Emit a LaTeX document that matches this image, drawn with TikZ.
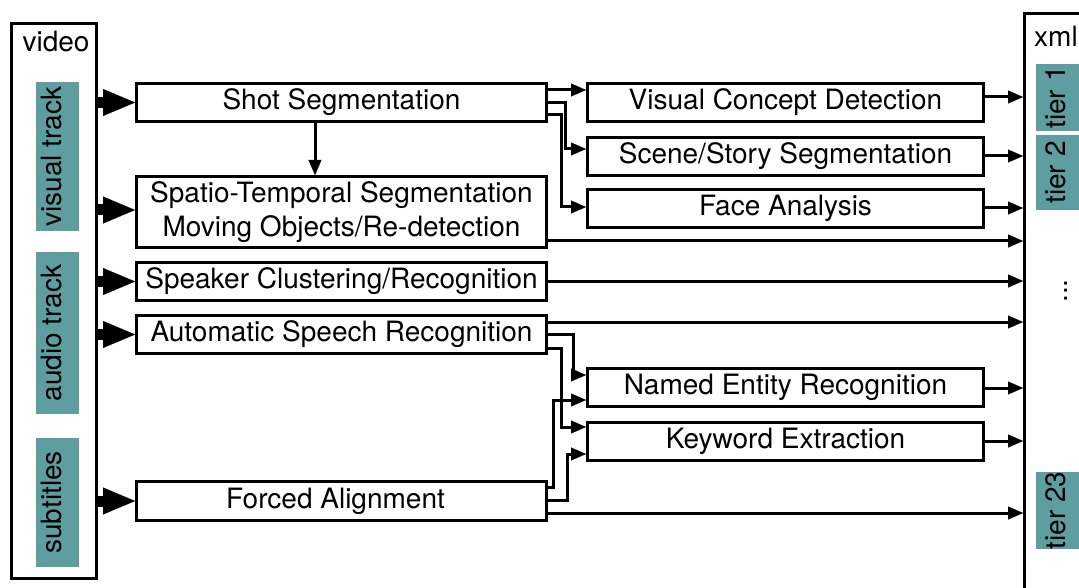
\documentclass[tikz,border=0pt]{standalone}
\usepackage{fontspec}
\setmainfont{TeX Gyre Heros}
\usetikzlibrary{arrows.meta}
\definecolor{cadet}{RGB}{95,158,160}
\begin{document}
\begin{tikzpicture}[x=1pt,y=-1pt,
  lbl/.style={font=\fontsize{28}{34}\selectfont, inner sep=0pt},
  box/.style={lbl, draw, line width=3pt, align=center, minimum height=38pt},
  lbox/.style={box, minimum width=410pt},
  rbox/.style={box, minimum width=396pt},
  tealbox/.style={lbl, fill=cadet, rotate=90, text height=20pt, text depth=13pt},
  arr/.style={line width=3pt, -{Triangle[length=15pt,width=13pt,line width=0.01pt]}},
  bigarr/.style={line width=11pt, -{Triangle[length=32pt,width=27pt,line width=0.01pt]}}]
\path[use as bounding box, clip] (0,0) rectangle (1079,588);
\fill[white] (0,0) rectangle (1079,588);

% input container
\node[draw, line width=3pt, minimum width=85pt, minimum height=554.5pt, inner sep=0pt] (video) at (54,301.25) {};
\node[lbl] (videolbl) at (56,41.5) {video};
\node[tealbox, minimum width=149pt, minimum height=43pt] (vtrack) at (57.5,156.5) {visual track};
\node[tealbox, minimum width=162pt, minimum height=43pt] (atrack) at (57.5,333) {audio track};
\node[tealbox, minimum width=129pt, minimum height=43pt] (subs) at (57.5,502.5) {subtitles};

% output container
\node[draw, line width=3pt, minimum width=120pt, minimum height=640pt, inner sep=0pt, anchor=north west] (xml) at (1023,12) {};
\node[lbl] (xmllbl) at (1056,36) {xml};
\node[tealbox, minimum width=67pt, minimum height=52pt] (tier1) at (1062,97.5) {tier 1};
\node[tealbox, minimum width=75pt, minimum height=52pt] (tier2) at (1062,172.5) {tier 2};
\node[lbl, rotate=90] (dots) at (1066,291) {...};
\node[tealbox, minimum width=75pt, minimum height=52pt] (tier23) at (1062,510.5) {tier 23};

% first column
\node[lbox] (shot) at (341.5,102.5) {Shot Segmentation};
\node[lbox, minimum height=71pt] (spatio) at (341.5,212) {Spatio-Temporal Segmentation\\Moving Objects/Re-detection};
\node[lbox] (speaker) at (341.5,281.5) {Speaker Clustering/Recognition};
\node[lbox] (asr) at (341.5,334.5) {Automatic Speech Recognition};
\node[lbox, minimum height=39pt] (forced) at (341.5,501) {Forced Alignment\hspace{12pt}};

% second column
\node[rbox] (vcd) at (785.5,102.5) {Visual Concept Detection};
\node[rbox] (scene) at (785.5,156.5) {Scene/Story Segmentation};
\node[rbox] (face) at (785.5,208.5) {Face Analysis};
\node[rbox] (ner) at (785.5,387.5) {Named Entity Recognition};
\node[rbox] (kwe) at (785.5,441.5) {Keyword Extraction};

% inputs
\draw[bigarr] (video.east |- shot) -- (shot.west);
\draw[bigarr] (video.east |- 0,210) -- (spatio.west |- 0,210);
\draw[bigarr] (video.east |- speaker) -- (speaker.west);
\draw[bigarr] (video.east |- asr) -- (asr.west);
\draw[bigarr] (video.east |- forced) -- (forced.west);

% shot segmentation
\draw[arr] (shot.south -| 315,0) -- (spatio.north -| 315,0);
\draw[arr] (shot.east |- 0,90) -- (vcd.west |- 0,90);
\draw[arr] (shot.east |- 0,103) -- (565,103) -- (565,149) -- (scene.west |- 0,149);
\draw[arr] (shot.east |- 0,115) -- (561,115) -- (561,207) -- (face.west |- 0,207);

% asr / forced alignment
\draw[arr] (asr.east |- 0,334) -- (573,334) -- (573,375) -- (ner.west |- 0,375);
\draw[arr] (asr.east |- 0,348) -- (561,348) -- (561,427) -- (kwe.west |- 0,427);
\draw[arr] (forced.east |- 0,487) -- (553,487) -- (553,400) -- (ner.west |- 0,400);
\draw[arr] (forced.east |- 0,500) -- (567,500) -- (567,454) -- (kwe.west |- 0,454);

% outputs
\draw[arr] (vcd.east |- 0,97) -- (xml.west |- 0,97);
\draw[arr] (scene.east |- 0,156) -- (xml.west |- 0,156);
\draw[arr] (face.east |- 0,208) -- (xml.west |- 0,208);
\draw[arr] (spatio.east |- 0,241) -- (xml.west |- 0,241);
\draw[arr] (speaker.east |- 0,281) -- (xml.west |- 0,281);
\draw[arr] (asr.east |- 0,322) -- (xml.west |- 0,322);
\draw[arr] (ner.east |- 0,388) -- (xml.west |- 0,388);
\draw[arr] (kwe.east |- 0,441) -- (xml.west |- 0,441);
\draw[arr] (forced.east |- 0,513) -- (xml.west |- 0,513);
\end{tikzpicture}
\end{document}
